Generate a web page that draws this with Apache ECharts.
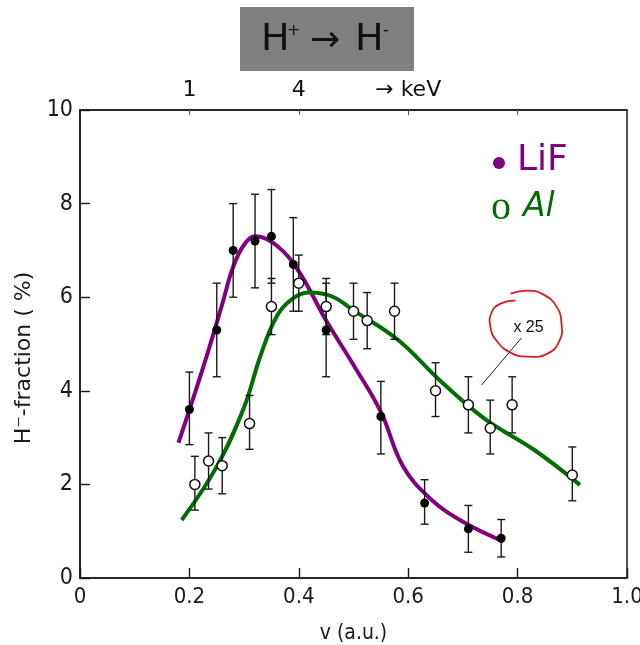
<!DOCTYPE html>
<html>
<head>
<meta charset="utf-8">
<script src="https://cdn.jsdelivr.net/npm/echarts@6/dist/echarts.min.js"></script>
<style>
  html, body { margin: 0; padding: 0; background: #fff; }
  #chart { width: 640px; height: 645px; }
</style>
</head>
<body>
<div id="chart"></div>
<script>
// H- fraction after scattering of H+ on LiF and Al, versus velocity v (a.u.)

// LiF: measured points with error bar limits
const lifV    = [0.20, 0.25, 0.28, 0.32, 0.35, 0.39, 0.45, 0.55, 0.63, 0.71, 0.77];
const lifY    = [3.6, 5.3, 7.0, 7.2, 7.3, 6.7, 5.3, 3.45, 1.6, 1.05, 0.85];
const lifLow  = [2.85, 4.3, 6.0, 6.2, 6.3, 5.7, 4.3, 2.65, 1.15, 0.55, 0.45];
const lifHigh = [4.4, 6.3, 8.0, 8.2, 8.3, 7.7, 6.3, 4.2, 2.1, 1.55, 1.25];

// Al (scaled x 25): measured points with error bar limits
const alV    = [0.21, 0.235, 0.26, 0.31, 0.35, 0.40, 0.45, 0.50, 0.525, 0.575, 0.65, 0.71, 0.75, 0.79, 0.90];
const alY    = [2.0, 2.5, 2.4, 3.3, 5.8, 6.3, 5.8, 5.7, 5.5, 5.7, 4.0, 3.7, 3.2, 3.7, 2.2];
const alLow  = [1.45, 1.9, 1.8, 2.75, 5.2, 5.7, 5.2, 5.1, 4.9, 5.1, 3.45, 3.1, 2.65, 3.1, 1.65];
const alHigh = [2.6, 3.1, 3.0, 3.9, 6.4, 6.9, 6.4, 6.3, 6.1, 6.3, 4.6, 4.3, 3.8, 4.3, 2.8];

// Guide-to-the-eye curves
const lifCurveV = [0.18, 0.21, 0.235, 0.26, 0.28, 0.30, 0.32, 0.36, 0.40, 0.45, 0.50, 0.55, 0.59, 0.64, 0.70, 0.774];
const lifCurveY = [2.89, 3.95, 4.87, 5.85, 6.65, 7.12, 7.3, 7.1, 6.55, 5.5, 4.55, 3.55, 2.4, 1.7, 1.2, 0.78];
const alCurveV  = [0.186, 0.25, 0.30, 0.33, 0.36, 0.39, 0.42, 0.46, 0.50, 0.58, 0.66, 0.74, 0.83, 0.914];
const alCurveY  = [1.24, 2.38, 3.65, 4.75, 5.6, 5.98, 6.1, 6.02, 5.72, 5.1, 4.2, 3.4, 2.74, 1.99];

// Axis ticks and labels
const xTicks = [0, 0.2, 0.4, 0.6, 0.8, 1.0];
const yTicks = [0, 2, 4, 6, 8, 10];
const topTickV = [0.2, 0.4, 0.6];
const topTickLabels = ['1', '4', '\u2192 keV'];

// Scale-factor note for the Al data
const noteText = 'x 25';
const noteAt = [0.82, 5.35];
const notePointer = [[0.734, 4.12], [0.807, 5.13]];

const PURPLE = '#800080';
const GREEN = '#006e00';
const TICK_FONT = '"Liberation Sans Narrow", "DejaVu Sans Condensed", sans-serif';
const AXIS_FONT = '"DejaVu Sans Condensed", "DejaVu Sans", sans-serif';
const HAND_FONT = '"DejaVu Sans", sans-serif';

const zip = (a, b) => a.map((x, i) => [x, b[i]]);

function errorBars(v, lo, hi) {
  return {
    type: 'custom',
    silent: true,
    z: 4,
    encode: { x: 0, y: [1, 2] },
    data: v.map((x, i) => [x, lo[i], hi[i]]),
    renderItem: (params, api) => {
      const top = api.coord([api.value(0), api.value(2)]);
      const bot = api.coord([api.value(0), api.value(1)]);
      const hw = 4;
      const st = { stroke: '#1a1a1a', lineWidth: 1.4 };
      return {
        type: 'group',
        children: [
          { type: 'line', shape: { x1: top[0], y1: top[1], x2: bot[0], y2: bot[1] }, style: st },
          { type: 'line', shape: { x1: top[0] - hw, y1: top[1], x2: top[0] + hw, y2: top[1] }, style: st },
          { type: 'line', shape: { x1: bot[0] - hw, y1: bot[1], x2: bot[0] + hw, y2: bot[1] }, style: st }
        ]
      };
    }
  };
}

const chart = echarts.init(document.getElementById('chart'), null, { renderer: 'canvas' });

const option = {
  animation: false,
  backgroundColor: '#fff',
  grid: {
    left: 80, top: 110, width: 547, height: 468, outerBoundsMode: 'none', containLabel: false,
    show: true, borderColor: '#1a1a1a', borderWidth: 1.5, backgroundColor: 'transparent'
  },
  xAxis: [
    {
      type: 'value', min: xTicks[0], max: xTicks[xTicks.length - 1], interval: 0.2,
      name: 'v (a.u.)', nameLocation: 'middle', nameGap: 45,
      nameTextStyle: { fontFamily: AXIS_FONT, fontSize: 21, color: '#1a1a1a' },
      axisLine: { show: true, lineStyle: { color: '#1a1a1a', width: 1.5 } },
      axisTick: { show: true, inside: true, length: 10, lineStyle: { color: '#1a1a1a', width: 1.4 } },
      axisLabel: {
        margin: 8, fontFamily: TICK_FONT, fontSize: 22, color: '#1a1a1a',
        formatter: v => (v === 0 ? '0' : v.toFixed(1))
      },
      splitLine: { show: false }
    },
    {
      type: 'value', position: 'top', min: xTicks[0], max: xTicks[xTicks.length - 1], interval: 0.2,
      axisLine: { show: true, lineStyle: { color: '#1a1a1a', width: 1.5 } },
      axisTick: { show: true, inside: true, length: 5, lineStyle: { color: '#555', width: 1 } },
      axisLabel: {
        margin: 9, fontFamily: HAND_FONT, fontSize: 22, color: '#111',
        showMinLabel: false, showMaxLabel: false,
        formatter: v => {
          const i = topTickV.findIndex(t => Math.abs(t - v) < 1e-6);
          return i >= 0 ? topTickLabels[i] : '';
        }
      },
      splitLine: { show: false }
    }
  ],
  yAxis: {
    type: 'value', min: yTicks[0], max: yTicks[yTicks.length - 1], interval: 2,
    name: 'H\u207B-fraction ( %)', nameLocation: 'middle', nameGap: 44,
    nameTextStyle: { fontFamily: HAND_FONT, fontSize: 22, color: '#1a1a1a', padding: [0, 28, 0, 0] },
    axisLine: { show: true, lineStyle: { color: '#1a1a1a', width: 1.5 } },
    axisTick: { show: true, inside: true, length: 10, lineStyle: { color: '#1a1a1a', width: 1.4 } },
    axisLabel: { margin: 7, fontFamily: TICK_FONT, fontSize: 23, color: '#1a1a1a' },
    splitLine: { show: false }
  },
  series: [
    {
      name: 'LiF curve', type: 'line', data: zip(lifCurveV, lifCurveY), smooth: 0.4,
      showSymbol: false, silent: true, z: 2,
      lineStyle: { color: PURPLE, width: 4 }
    },
    {
      name: 'Al curve', type: 'line', data: zip(alCurveV, alCurveY), smooth: 0.4,
      showSymbol: false, silent: true, z: 2,
      lineStyle: { color: GREEN, width: 4 }
    },
    errorBars(lifV, lifLow, lifHigh),
    errorBars(alV, alLow, alHigh),
    {
      name: 'LiF', type: 'scatter', data: zip(lifV, lifY), symbol: 'circle', symbolSize: 9, z: 5,
      itemStyle: { color: '#000', opacity: 1 }
    },
    {
      name: 'Al', type: 'scatter', data: zip(alV, alY), symbol: 'circle', symbolSize: 10, z: 5,
      itemStyle: { color: '#fff', borderColor: '#111', borderWidth: 1.5, opacity: 1 }
    }
  ]
};

chart.setOption(option);

// Title box, legend and the scale-factor note
const p0 = chart.convertToPixel({ gridIndex: 0 }, notePointer[0]);
const p1 = chart.convertToPixel({ gridIndex: 0 }, notePointer[1]);
const nt = chart.convertToPixel({ gridIndex: 0 }, noteAt);
const ringOffsets = [
  [-13, -27], [-28, -24], [-37, -15], [-38, 0], [-32, 13], [-18, 25], [-1, 29],
  [19, 26], [31, 13], [33, -4], [28, -21], [15, -33], [0, -37], [-18, -34]
];

chart.setOption({
  graphic: [
    { type: 'rect', shape: { x: 240, y: 7, width: 174, height: 64 }, style: { fill: '#808080' }, z: 10 },
    { type: 'text', x: 261, y: 40, style: { text: 'H', font: '38px ' + HAND_FONT, fill: '#111', textVerticalAlign: 'middle' }, z: 11 },
    { type: 'text', x: 287, y: 31, style: { text: '+', font: '16px ' + HAND_FONT, fill: '#111', textVerticalAlign: 'middle' }, z: 11 },
    { type: 'text', x: 310, y: 42, style: { text: '\u2192', font: '36px ' + HAND_FONT, fill: '#111', textVerticalAlign: 'middle' }, z: 11 },
    { type: 'text', x: 355, y: 40, style: { text: 'H', font: '38px ' + HAND_FONT, fill: '#111', textVerticalAlign: 'middle' }, z: 11 },
    { type: 'text', x: 383, y: 31, style: { text: '-', font: '16px ' + HAND_FONT, fill: '#111', textVerticalAlign: 'middle' }, z: 11 },

    { type: 'circle', shape: { cx: 499, cy: 163, r: 6 }, style: { fill: PURPLE }, z: 11 },
    { type: 'text', x: 517, y: 161, style: { text: 'LiF', font: '36px ' + HAND_FONT, fill: PURPLE, textVerticalAlign: 'middle' }, z: 11 },
    { type: 'text', x: 491, y: 208, style: { text: 'o', font: '40px "Liberation Serif", serif', fill: GREEN, textVerticalAlign: 'middle' }, z: 11 },
    { type: 'text', x: 523, y: 207, style: { text: 'Al', font: 'italic 33px ' + HAND_FONT, fill: GREEN, textVerticalAlign: 'middle' }, z: 11 },

    { type: 'line', shape: { x1: p0[0], y1: p0[1], x2: p1[0], y2: p1[1] }, style: { stroke: '#222', lineWidth: 1 }, z: 11 },
    { type: 'text', x: nt[0], y: nt[1], style: { text: noteText, font: '16px "Liberation Sans", sans-serif', fill: '#111', textAlign: 'center', textVerticalAlign: 'middle' }, z: 11 },
    {
      type: 'polyline', z: 11,
      shape: { points: ringOffsets.map(o => [nt[0] + o[0], nt[1] + o[1]]), smooth: 0.5 },
      style: { stroke: '#d42020', lineWidth: 1.8, fill: null }
    }
  ]
});
</script>
</body>
</html>
